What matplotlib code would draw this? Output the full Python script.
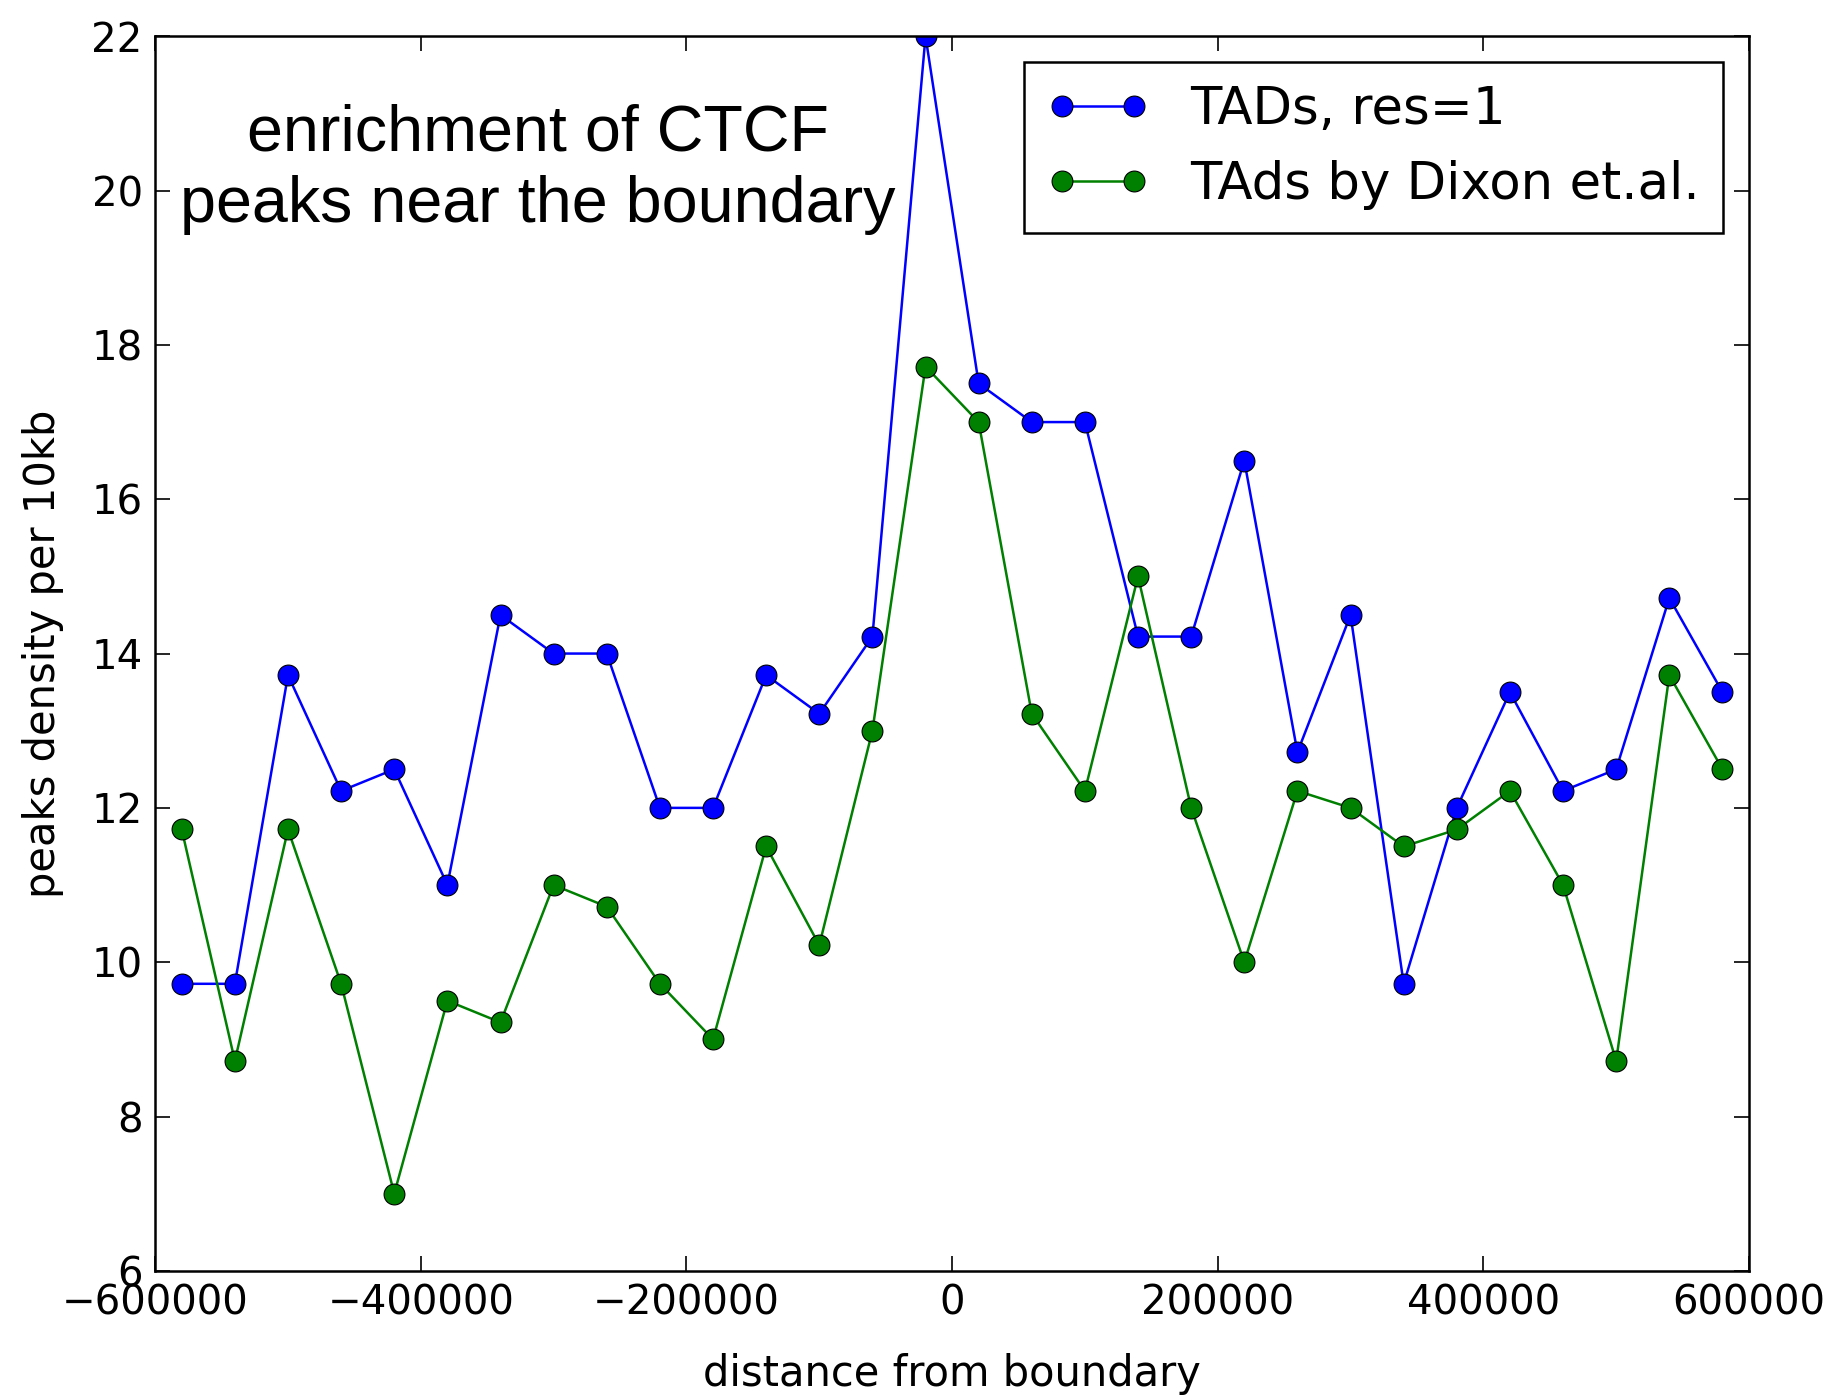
import matplotlib
matplotlib.use("Agg")
import matplotlib.pyplot as plt

# distance from boundary (bp)
distance = [-580000, -540000, -500000, -460000, -420000, -380000, -340000, -300000,
            -260000, -220000, -180000, -140000, -100000, -60000, -20000, 20000,
            60000, 100000, 140000, 180000, 220000, 260000, 300000, 340000,
            380000, 420000, 460000, 500000, 540000, 580000]

# peaks density per 10kb
tads_res1 = [9.72, 9.72, 13.72, 12.22, 12.5, 11.0, 14.5, 14.0, 14.0, 12.0,
             12.0, 13.72, 13.22, 14.22, 22.0, 17.5, 17.0, 17.0, 14.22, 14.22,
             16.5, 12.72, 14.5, 9.72, 12.0, 13.5, 12.22, 12.5, 14.72, 13.5]
tads_dixon = [11.72, 8.72, 11.72, 9.72, 7.0, 9.5, 9.22, 11.0, 10.72, 9.72,
              9.0, 11.5, 10.22, 13.0, 17.72, 17.0, 13.22, 12.22, 15.0, 12.0,
              10.0, 12.22, 12.0, 11.5, 11.72, 12.22, 11.0, 8.72, 13.72, 12.5]

labels = ["TADs, res=1", "TAds by Dixon et.al."]
xticks = [-600000, -400000, -200000, 0, 200000, 400000, 600000]
yticks = [6, 8, 10, 12, 14, 16, 18, 20, 22]

fig = plt.figure(figsize=(18.32, 13.95), dpi=100)
ax = fig.add_axes([0.0847, 0.089, 0.870, 0.885])

ax.plot(distance, tads_res1, '-o', color='blue', lw=1.8, ms=15,
        mec='black', mew=0.8, label=labels[0])
ax.plot(distance, tads_dixon, '-o', color='green', lw=1.8, ms=15,
        mec='black', mew=0.8, label=labels[1])

ax.set_xlim(-600000, 600000)
ax.set_ylim(6, 22)
ax.set_xticks(xticks)
ax.set_yticks(yticks)
ax.tick_params(direction='in', top=True, right=True, length=11, width=1.2,
               labelsize=29, pad=9)
for s in ax.spines.values():
    s.set_linewidth(1.8)

ax.set_xlabel("distance from boundary", fontsize=30, labelpad=21)
ax.set_ylabel("peaks density per 10kb", fontsize=30, labelpad=20)

leg = ax.legend(loc='upper right', fontsize=37, fancybox=False, numpoints=2,
                edgecolor='black', framealpha=1, borderpad=0.45,
                handlelength=2.0, handletextpad=0.8, labelspacing=0.48)
leg.get_frame().set_linewidth(1.8)

ax.text(0.24, 0.892, "enrichment of CTCF\npeaks near the boundary",
        transform=ax.transAxes, ha='center', va='center', fontsize=46.5,
        color='black', family=['Liberation Sans', 'DejaVu Sans'],
        linespacing=1.25)

fig.savefig("out.png", dpi=100)
